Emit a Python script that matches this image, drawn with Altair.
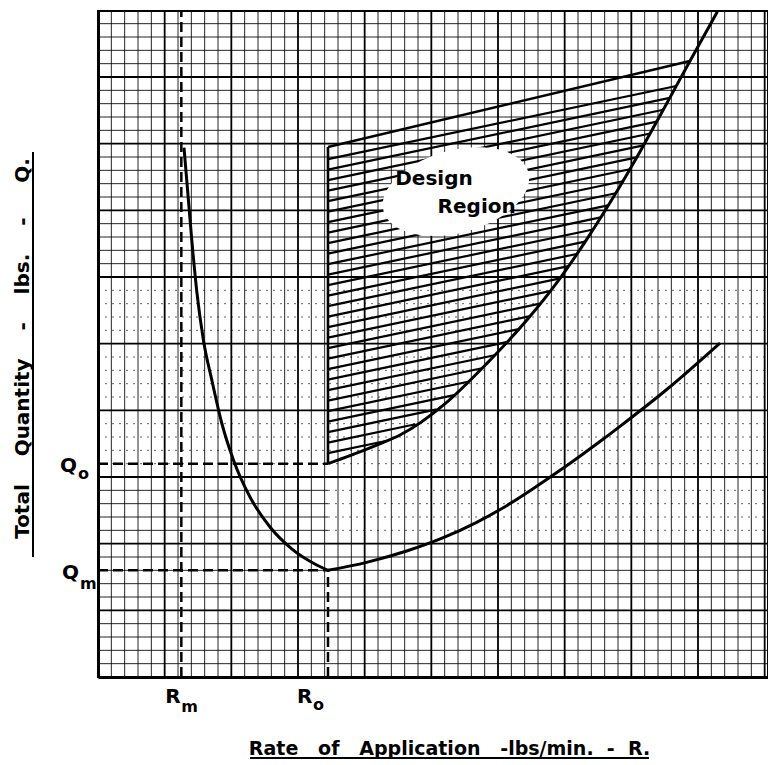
import altair as alt
import pandas as pd
import numpy as np

# Graph-paper units: one unit = one minor division of the paper
x_max = 50.25
y_max = 49.95

R_m = 6.25
R_o = 17.25
Q_o = 16.0
Q_m = 8.0

# U-shaped curve: steep branch down to the minimum (R_o, Q_m) ...
left_x = [6.45, 7.03, 7.4, 7.9, 8.53, 9.28, 10.15, 11.4, 12.9, 14.6, 16.4, 17.25]
left_y = [39.7, 32.8, 29.0, 25.3, 22.3, 19.05, 16.3, 13.5, 11.25, 9.55, 8.4, 8.0]
# ... and the gently rising branch after it
right_x = [17.25, 20.15, 23.15, 25.9, 28.4, 30.65, 32.6, 34.65, 36.4, 37.9, 39.15, 42.7, 46.65]
right_y = [8.0, 8.6, 9.45, 10.45, 11.6, 12.85, 14.1, 15.5, 16.75, 17.85, 18.8, 21.6, 25.05]

# Upper curve bounding the design region
curve2_x = [17.25, 18.9, 21.4, 22.65, 26.15, 29.15, 32.15, 34.65, 36.9, 38.9, 40.65, 42.15, 44.4, 46.45]
curve2_y = [16.0, 16.6, 17.6, 18.15, 20.6, 23.5, 26.75, 29.9, 33.2, 36.4, 39.4, 42.1, 46.2, 49.9]

# Top edge of the design region
top_x = [17.25, 44.4]
top_y = [39.75, 46.2]

# Hatch lines of the design region (start heights on the R_o line)
hatch_y0 = [16.79, 17.58, 18.36, 19.15, 19.94, 20.73, 21.51, 22.3, 23.09, 23.88, 24.66,
            25.45, 26.24, 27.03, 27.81, 28.6, 29.39, 30.18, 30.96, 31.75, 32.54, 33.33,
            34.11, 34.9, 35.69, 36.48, 37.26, 38.05, 38.84]
hatch_slope = 0.21

design_words = ["Design", "Region"]
design_x = [25.2, 28.4]
design_y = [36.9, 34.8]
blob_x = [26.85]
blob_y = [36.4]

SP = "\u00a0"
x_title = f"Rate{SP*3}of{SP*3}Application{SP*3}-lbs/min.{SP*2}-{SP*2}R."
y_title = f"Total{SP*4}Quantity{SP*4}-{SP*4}lbs.{SP*4}-{SP*5}Q."

FONT = "DejaVu Sans"

# ---------- tables ----------
curves = pd.DataFrame({
    "x": left_x + right_x + curve2_x,
    "y": left_y + right_y + curve2_y,
    "curve": ["left"] * len(left_x) + ["right"] * len(right_x) + ["upper"] * len(curve2_x),
})

# grid
vert = pd.DataFrame({"x": list(range(1, 51))})
vert["x2"] = vert["x"]
vert["y"] = 0.0
vert["y2"] = y_max
vert_minor = vert[vert["x"] % 5 != 0]
vert_major = vert[vert["x"] % 5 == 0]

h_solid, h_dot, h_major = [], [], []
for k in range(1, 50):
    if k % 5 == 0:
        h_major.append((0.0, x_max, k))
    elif 11 <= k <= 29:
        if k <= 15:
            h_solid.append((0.0, R_o, k))
            h_dot.append((R_o, x_max, k))
        else:
            h_dot.append((0.0, x_max, k))
    else:
        h_solid.append((0.0, x_max, k))
cols = ["x", "x2", "y"]
h_solid = pd.DataFrame(h_solid, columns=cols)
h_dot = pd.DataFrame(h_dot, columns=cols)
h_major = pd.DataFrame(h_major, columns=cols)
for d in (h_solid, h_dot, h_major):
    d["y2"] = d["y"]

# hatch segments end where they meet the upper curve
cx = np.array(curve2_x)
cy = np.array(curve2_y)
xs = np.linspace(R_o, cx[-1], 4000)
cys = np.interp(xs, cx, cy)
hx, hx2, hy, hy2 = [], [], [], []
for y0 in hatch_y0:
    ly = y0 + hatch_slope * (xs - R_o)
    idx = int(np.argmax(cys >= ly))
    hx.append(R_o); hy.append(y0)
    hx2.append(float(xs[idx])); hy2.append(float(ly[idx]))
hatch = pd.DataFrame({"x": hx, "x2": hx2, "y": hy, "y2": hy2})

region_edges = pd.DataFrame({
    "x": [top_x[0], R_o], "x2": [top_x[1], R_o],
    "y": [top_y[0], Q_o], "y2": [top_y[1], top_y[0]],
})

guides = pd.DataFrame({
    "x": [R_m, R_o, 0.0, 0.0],
    "x2": [R_m, R_o, R_o, R_o],
    "y": [0.0, 0.0, Q_o, Q_m],
    "y2": [y_max, Q_m, Q_o, Q_m],
})

blob = pd.DataFrame({"x": blob_x, "y": blob_y})
design = pd.DataFrame({"x": design_x, "y": design_y, "t": design_words})

one = pd.DataFrame({"a": [0]})

# ---------- encodings ----------
xscale = alt.Scale(domain=[0, x_max], nice=False, zero=False)
yscale = alt.Scale(domain=[0, y_max], nice=False, zero=False)
xaxis = alt.Axis(title=x_title, labels=False, ticks=False, grid=False,
                 domainColor="black", domainWidth=3,
                 titleFont=FONT, titleFontSize=19, titleFontWeight="bold", titleColor="black",
                 titleX=351, titleY=77, titleAlign="center", titleBaseline="alphabetic")
yaxis = alt.Axis(title=y_title, labels=False, ticks=False, grid=False,
                 domainColor="black", domainWidth=3,
                 titleFont=FONT, titleFontSize=20, titleFontWeight="bold", titleColor="black",
                 titleAngle=270, titleX=-76, titleY=337, titleAlign="center",
                 titleBaseline="middle")


def X(f="x"):
    return alt.X(f"{f}:Q", scale=xscale, axis=xaxis)


def Y(f="y"):
    return alt.Y(f"{f}:Q", scale=yscale, axis=yaxis)


def seg_layer(df, **mk):
    return alt.Chart(df).mark_rule(color="black", **mk).encode(
        x=X("x"), x2="x2:Q", y=Y("y"), y2="y2:Q")


grid_v_minor = seg_layer(vert_minor, strokeWidth=1, opacity=0.85)
grid_v_major = seg_layer(vert_major, strokeWidth=1.8)
grid_h_solid = seg_layer(h_solid, strokeWidth=1, opacity=0.85)
grid_h_dot = seg_layer(h_dot, strokeWidth=1, strokeDash=[2, 5], opacity=0.6)
grid_h_major = seg_layer(h_major, strokeWidth=1.8)

hatch_layer = seg_layer(hatch, strokeWidth=2.2)
edges_layer = seg_layer(region_edges, strokeWidth=2.6)

ellipse = "M -1 0 A 1 0.55 0 1 1 1 0 A 1 0.55 0 1 1 -1 0 Z"
blob_layer = alt.Chart(blob).mark_point(
    shape=ellipse, filled=True, fill="white", color="white", opacity=1,
    strokeWidth=0, size=22500, angle=345
).encode(x=X("x"), y=Y("y"))

design_layer = alt.Chart(design).mark_text(
    font=FONT, fontSize=20, fontWeight="bold", color="black",
    align="center", baseline="alphabetic"
).encode(x=X("x"), y=Y("y"), text="t:N")

curve_layer = alt.Chart(curves).mark_line(
    color="black", strokeWidth=3, interpolate="monotone"
).encode(x=X("x"), y=Y("y"), detail="curve:N")

guide_layer = seg_layer(guides, strokeWidth=2.5, strokeDash=[10, 5])


def label(xv, yv, txt, size, dx, dy, align):
    df = pd.DataFrame({"x": [xv], "y": [yv], "t": [txt]})
    return alt.Chart(df).mark_text(
        font=FONT, fontSize=size, fontWeight="bold", color="black",
        align=align, baseline="alphabetic", dx=dx, dy=dy
    ).encode(x=X("x"), y=Y("y"), text="t:N")


labels = [
    label(0.0, Q_o, "Q", 20, -21, 8, "right"),
    label(0.0, Q_o, "o", 16, -20, 15, "left"),
    label(0.0, Q_m, "Q", 20, -19, 9, "right"),
    label(0.0, Q_m, "m", 16, -18, 19, "left"),
    label(R_m, 0.0, "R", 20, -16, 26, "left"),
    label(R_m, 0.0, "m", 16, 0, 35, "left"),
    label(R_o, 0.0, "R", 20, -31, 26, "left"),
    label(R_o, 0.0, "o", 16, -15, 33, "left"),
]

# underlines of the two axis titles (decoration, pixel offsets from the plot origin)
x_underline = alt.Chart(one).mark_rule(color="black", strokeWidth=2).encode(
    x=alt.value(152), x2=alt.value(551), y=alt.value(747))
y_underline = alt.Chart(one).mark_rule(color="black", strokeWidth=2).encode(
    x=alt.value(-65), y=alt.value(141), y2=alt.value(546))

chart = alt.layer(
    grid_v_minor, grid_h_solid, grid_h_dot, grid_v_major, grid_h_major,
    hatch_layer, blob_layer, design_layer, edges_layer, curve_layer, guide_layer,
    *labels, x_underline, y_underline,
).properties(
    width=670, height=666,
    padding={"left": 90, "top": 3, "right": 0, "bottom": 82},
    autosize=alt.AutoSizeParams(type="none"),
    background="white",
).configure_view(stroke="black", strokeWidth=2)

chart.save("out.html", embed_options={"renderer": "svg", "actions": False})
